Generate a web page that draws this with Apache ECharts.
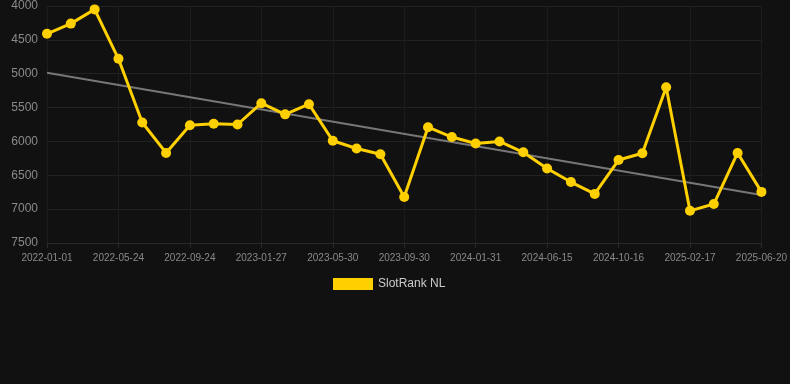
<!DOCTYPE html>
<html><head><meta charset="utf-8">
<script src="https://cdn.jsdelivr.net/npm/echarts@6/dist/echarts.min.js"></script>
<style>html,body{margin:0;padding:0;background:#111111;}#c{width:790px;height:384px;}</style>
</head><body><div id="c"></div>
<script>
var categories = ['2022-01-01','2022-02-17','2022-04-05','2022-05-24','2022-07-04','2022-08-14','2022-09-24','2022-11-04','2022-12-16','2023-01-27','2023-03-09','2023-04-19','2023-05-30','2023-07-10','2023-08-20','2023-09-30','2023-11-10','2023-12-21','2024-01-31','2024-03-16','2024-04-30','2024-06-15','2024-07-26','2024-09-05','2024-10-16','2024-11-26','2025-01-06','2025-02-17','2025-03-30','2025-05-10','2025-06-20'];
var seriesValues = [4410,4260,4050,4780,5720,6170,5760,5740,5750,5435,5600,5450,5990,6105,6190,6820,5790,5935,6030,6000,6160,6400,6600,6775,6275,6175,5200,7025,6925,6170,6745];
var trendValues = [4985, 6790];
var yTicks = {min: 4000, max: 7500, interval: 500};
var seriesName = 'SlotRank NL';

var chart = echarts.init(document.getElementById('c'), null, {renderer: 'canvas'});
chart.setOption({
  backgroundColor: '#111111',
  animation: false,
  grid: {left: 47, right: 28, top: 6, bottom: 141},
  legend: {
    data: [seriesName], top: 273, left: 328,
    itemWidth: 40, itemHeight: 12, itemGap: 10,
    textStyle: {color: '#cccccc', fontSize: 12, fontFamily: 'Liberation Sans, Arial, sans-serif'},
    icon: 'rect'
  },
  xAxis: {
    type: 'category', data: categories, boundaryGap: false,
    axisLine: {show: true, lineStyle: {color: '#2a2a2a'}},
    axisTick: {show: true, interval: 2, lineStyle: {color: '#2a2a2a'}},
    axisLabel: {interval: 2, color: '#8a8a8a', fontSize: 10, fontFamily: 'Liberation Sans, Arial, sans-serif', margin: 10},
    splitLine: {show: true, interval: 2, lineStyle: {color: '#1c1c1c'}}
  },
  yAxis: {
    type: 'value', inverse: true, min: yTicks.min, max: yTicks.max, interval: yTicks.interval,
    axisLine: {show: false}, axisTick: {show: false},
    axisLabel: {color: '#8a8a8a', fontSize: 12, fontFamily: 'Liberation Sans, Arial, sans-serif', margin: 9,
      formatter: function (v) { return String(v); }},
    splitLine: {show: true, lineStyle: {color: '#222222'}}
  },
  series: [
    {
      name: seriesName, type: 'line', data: seriesValues,
      symbol: 'circle', symbolSize: 10,
      lineStyle: {color: '#ffd000', width: 3},
      itemStyle: {color: '#ffd000'},
      z: 3
    },
    {
      name: 'trend', type: 'line',
      data: [[categories[0], trendValues[0]], [categories[categories.length-1], trendValues[1]]],
      symbol: 'none', silent: true,
      lineStyle: {color: '#777777', width: 2},
      z: 2
    }
  ]
});
</script></body></html>
